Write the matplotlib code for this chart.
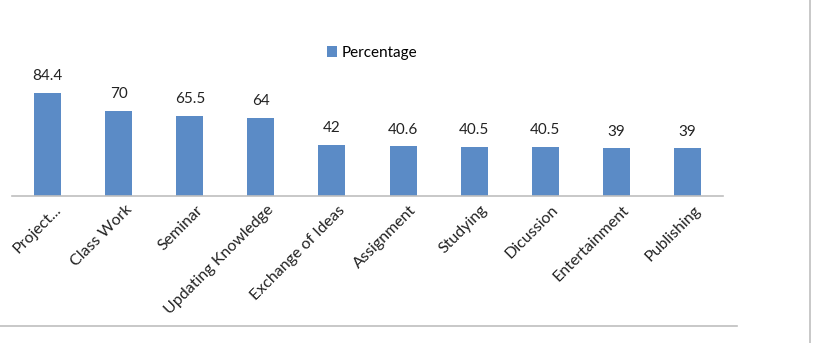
import matplotlib
matplotlib.use("Agg")
import matplotlib.pyplot as plt
from matplotlib.lines import Line2D
import matplotlib.transforms as mtransforms

categories = ["Project...", "Class Work", "Seminar", "Updating Knowledge",
              "Exchange of Ideas", "Assignment", "Studying", "Dicussion",
              "Entertainment", "Publishing"]
values = [84.4, 70, 65.5, 64, 42, 40.6, 40.5, 40.5, 39, 39]
value_labels = ["84.4", "70", "65.5", "64", "42", "40.6", "40.5", "40.5", "39", "39"]
series_name = "Percentage"

W, H = 816, 343
fig = plt.figure(figsize=(W / 100, H / 100), dpi=100)
plt.rcParams['font.family'] = ['Lato', 'DejaVu Sans']

ax_left, ax_right = 12, 723
ax_bottom_px = 196
ymax = 100
px_per_unit = 1.22
ax_h = ymax * px_per_unit
ax = fig.add_axes([ax_left / W, 1 - ax_bottom_px / H, (ax_right - ax_left) / W, ax_h / H])

color = "#5B8BC6"
x = list(range(len(categories)))
bars = ax.bar(x, values, width=0.38, color=color, label=series_name)
ax.set_xlim(-0.5, len(categories) - 0.5)
ax.set_ylim(0, ymax)

for xi, v, lab in zip(x, values, value_labels):
    ax.annotate(lab, (xi, v), xytext=(0, 7), textcoords="offset points",
                ha="center", va="bottom", fontsize=11, color="#222222")

for s in ["top", "right", "left"]:
    ax.spines[s].set_visible(False)
ax.spines["bottom"].set_color("#BFBFBF")
ax.spines["bottom"].set_linewidth(1.2)
ax.set_yticks([])
ax.set_xticks(x)
ax.set_xticklabels(categories, rotation=45, ha="right", rotation_mode="anchor",
                   fontsize=11.5, color="#222222")
ax.tick_params(axis="x", length=0, pad=5)
offset = mtransforms.ScaledTranslation(6 / 100, 0, fig.dpi_scale_trans)
for lbl in ax.get_xticklabels():
    lbl.set_transform(lbl.get_transform() + offset)

leg = fig.legend(handles=[bars], labels=[series_name], loc="center",
                 bbox_to_anchor=(372 / W, 1 - 53 / H), frameon=False,
                 fontsize=11, handlelength=0.7, handleheight=0.7,
                 handletextpad=0.3)

# frame lines
fig.add_artist(Line2D([0, 737 / W], [1 - 326 / H, 1 - 326 / H], color="#BFBFBF", lw=1.2))
fig.add_artist(Line2D([810 / W, 810 / W], [0, 1], color="#BFBFBF", lw=1.2))

fig.savefig("out.png", dpi=100)
